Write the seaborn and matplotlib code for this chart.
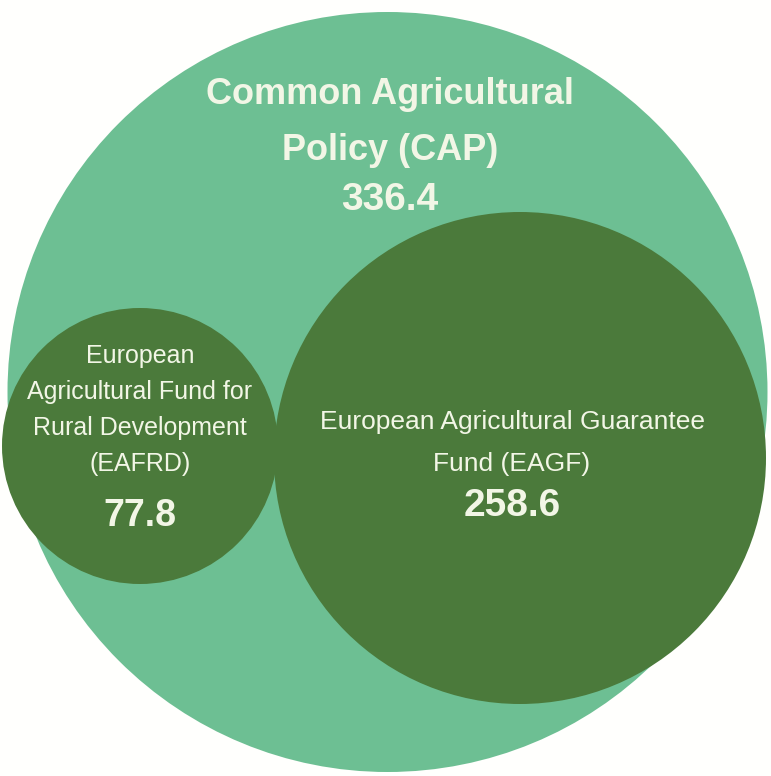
import matplotlib
matplotlib.use("Agg")
import matplotlib.pyplot as plt
from matplotlib.patches import Circle
import seaborn as sns

# data
names = [["Common Agricultural", "Policy (CAP)"],
         ["European", "Agricultural Fund for", "Rural Development", "(EAFRD)"],
         ["European Agricultural Guarantee", "Fund (EAGF)"]]
values = [336.4, 77.8, 258.6]

# layout (pixel coords of the 771x776 canvas)
centers = [(387.5, 392), (140, 446), (520, 458)]
radii = [380, 138, 246]
colors = ["#6dbf93", "#4b7a3b", "#4b7a3b"]
label_x = [390, 140, 512]
label_top = [95, 356, 422]
line_gap = [55, 36, 42]
label_size = [26, 18, 19]
label_bold = [True, False, False]
value_y = [200, 516, 506]
value_size = [28, 27, 28]

sns.set_theme(style="white")
plt.rcParams['font.family'] = ['Liberation Sans', 'DejaVu Sans']

fig = plt.figure(figsize=(7.71, 7.76), dpi=100)
ax = fig.add_axes([0, 0, 1, 1])
fig.patch.set_facecolor("#fffffd")
ax.set_facecolor("#fffffd")

for c, r, col in zip(centers, radii, colors):
    ax.add_patch(Circle(c, r, facecolor=col, edgecolor="none"))

txt = "#f2f6e6"
for i, lines in enumerate(names):
    for k, line in enumerate(lines):
        ax.text(label_x[i], label_top[i] + k * line_gap[i], line,
                ha="center", va="center", fontsize=label_size[i],
                fontweight="bold" if label_bold[i] else "normal", color=txt)
    ax.text(label_x[i], value_y[i], f"{values[i]}", ha="center", va="center",
            fontsize=value_size[i], fontweight="bold", color=txt)

ax.set_xlim(0, 771)
ax.set_ylim(776, 0)
ax.set_aspect("equal")
ax.axis("off")

fig.savefig("out.png", dpi=100, facecolor=fig.get_facecolor())
